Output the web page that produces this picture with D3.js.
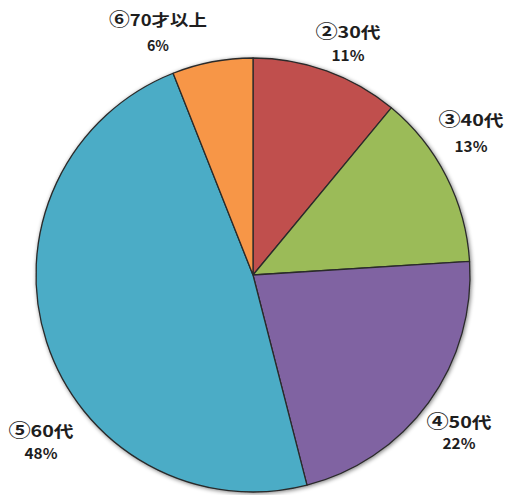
<!DOCTYPE html>
<html>
<head>
<meta charset="utf-8">
<script src="https://cdn.jsdelivr.net/npm/d3@7"></script>
<style>
  html, body { margin: 0; padding: 0; background: #fff; }
  svg { display: block; }
  text { font-family: "Noto Sans CJK JP", "Noto Sans", sans-serif; font-weight: 700; fill: #1e1e1e; }
</style>
</head>
<body>
<svg id="chart" width="507" height="495"></svg>
<script>
// Age groups and their share (%)
const categories = ["②30代", "③40代", "④50代", "⑤60代", "⑥70才以上"];
const values = [11, 13, 22, 48, 6];
const colors = ["#C0504D", "#9BBB59", "#8064A2", "#4BACC6", "#F79646"];
// label placement: centre x, name baseline, percentage baseline
const labelX = [348, 471, 459, 41, 158];
const nameY = [38, 126, 428, 437, 26];
const pctY = [61, 152, 449, 459, 51];

const svg = d3.select("#chart");
const cx = 253, cy = 275, r = 217;

const defs = svg.append("defs");
const f = defs.append("filter").attr("id", "shadow")
  .attr("x", "-10%").attr("y", "-10%").attr("width", "120%").attr("height", "120%");
f.append("feGaussianBlur").attr("in", "SourceAlpha").attr("stdDeviation", 2).attr("result", "b");
f.append("feOffset").attr("in", "b").attr("dx", 1).attr("dy", 1).attr("result", "o");
f.append("feComponentTransfer").attr("in", "o").attr("result", "s")
  .append("feFuncA").attr("type", "linear").attr("slope", 0.5);
const m = f.append("feMerge");
m.append("feMergeNode").attr("in", "s");
m.append("feMergeNode").attr("in", "SourceGraphic");

const data = categories.map((c, i) => ({
  name: c, value: values[i], color: colors[i], x: labelX[i], ny: nameY[i], py: pctY[i]
}));

const pie = d3.pie().value(d => d.value).sort(null);
const arc = d3.arc().innerRadius(0).outerRadius(r);

const g = svg.append("g").attr("transform", `translate(${cx},${cy})`).attr("filter", "url(#shadow)");
g.selectAll("path").data(pie(data)).join("path")
  .attr("d", arc)
  .attr("fill", d => d.data.color)
  .attr("stroke", "#2a2a2a")
  .attr("stroke-width", 1.3)
  .attr("stroke-linejoin", "round");

const labels = svg.append("g").selectAll("g").data(data).join("g");
const names = labels.append("text").attr("text-anchor", "middle").attr("font-size", 16)
  .attr("x", d => d.x).attr("y", d => d.ny)
  .attr("textLength", d => [...d.name].length * 16.3)
  .attr("lengthAdjust", "spacingAndGlyphs");
// slightly enlarged circled numeral, then the rest of the label
names.append("tspan").attr("font-size", 18).text(d => [...d.name][0]);
names.append("tspan").text(d => [...d.name].slice(1).join(""));
labels.append("text").attr("text-anchor", "middle").attr("font-size", 15)
  .attr("x", d => d.x).attr("y", d => d.py)
  .attr("textLength", d => (String(d.value).length + 1) * 11)
  .attr("lengthAdjust", "spacingAndGlyphs")
  .text(d => d.value + "%");
</script>
</body>
</html>
